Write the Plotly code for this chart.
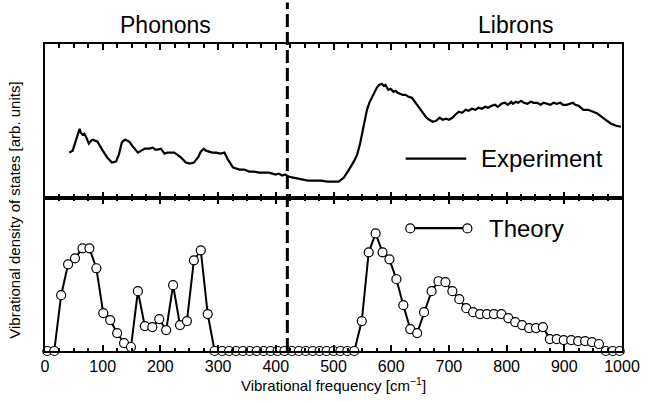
import plotly.graph_objects as go

# ---------------- data ----------------
exp_x = [42, 48, 54, 58, 60, 62, 65, 68, 71, 76, 80, 83, 87, 91, 99, 108, 116, 123, 128, 133,
         136, 139, 143, 146, 151, 156, 161, 167, 173, 180, 187, 191, 195, 201, 207, 212, 218,
         224, 229, 236, 244, 251, 258, 266, 270, 275, 279, 283, 290, 297, 304, 311, 317, 326,
         337, 345, 354, 362, 371, 380, 388, 394, 400, 405, 411, 416, 422, 430, 439, 447, 456,
         467, 479, 489, 499, 509, 518, 524, 530, 536, 541, 546, 550, 554, 558, 562, 567, 571,
         575, 579, 584, 587, 590, 593, 595, 599, 604, 608, 611, 615, 620, 625, 630, 636, 641,
         646, 652, 656, 661, 666, 672, 678, 684, 689, 695, 700, 706, 711, 717, 723, 729, 734,
         740, 746, 751, 757, 763, 768, 774, 780, 785, 791, 797, 802, 808, 811, 816, 820, 825,
         830, 836, 842, 847, 853, 859, 864, 870, 876, 881, 887, 893, 898, 904, 910, 915, 919,
         925, 933, 941, 950, 958, 967, 974, 981, 990, 998]
exp_y = [45, 47, 58, 64, 69, 65, 63, 64, 61, 54, 57, 58, 57, 56, 48, 40, 35, 36, 43, 55,
         57, 58, 57, 56, 52, 49, 45, 47, 49, 49, 50, 48, 48, 49, 44, 45, 45,
         45, 43, 40, 35, 34, 35, 41, 46, 49, 47, 46, 45, 45, 44, 45, 38, 30,
         28, 28, 26, 26, 25, 25, 25, 24, 23, 24, 22, 23, 21, 20, 19, 18, 17,
         17, 17, 16, 16, 16, 20, 25, 31, 37, 43, 54, 65, 76, 88, 95, 101, 105,
         110, 113, 114, 112, 113, 110, 108, 109, 106, 107, 105, 104, 103, 103, 101, 100, 96,
         93, 88, 84, 80, 78, 76, 77, 80, 78, 79, 78, 80, 83, 86, 85, 88, 87,
         89, 88, 90, 89, 91, 90, 92, 93, 91, 94, 95, 93, 96, 94, 96, 95, 97,
         95, 94, 96, 95, 95, 93, 95, 94, 93, 95, 94, 95, 93, 93, 94, 95, 93,
         92, 88, 88, 86, 84, 80, 77, 74, 72, 71]

theory_x = [4, 16, 28, 40, 52, 65, 77, 89, 101, 113, 125, 137, 149, 161, 173, 186, 198, 210,
            222, 234, 246, 258, 270, 282, 294, 307, 319, 331, 343, 355, 367, 379, 391, 403,
            415, 428, 440, 452, 464, 476, 488, 500, 512, 524, 536, 549, 561, 573, 585, 597,
            609, 621, 633, 645, 657, 670, 682, 694, 706, 718, 730, 742, 754, 766, 778, 791,
            803, 815, 827, 839, 851, 863, 875, 887, 899, 912, 924, 936, 948, 960, 972, 984, 996]
theory_y = [0, 0, 56, 87, 93, 103, 103, 83, 38, 31, 18, 8, 4, 60, 25, 24, 32, 21,
            66, 26, 30, 91, 101, 37, 0, 0, 0, 0, 0, 0, 0, 0, 0, 0,
            0, 0, 0, 0, 0, 0, 0, 0, 0, 0, 0, 30, 99, 118, 99, 92,
            72, 46, 22, 18, 39, 60, 70, 69, 60, 52, 43, 39, 37, 37, 37, 37,
            33, 29, 26, 23, 23, 24, 12, 12, 11, 11, 10, 10, 9, 7, 0, 0, 0]

tick_vals = [0, 100, 200, 300, 400, 500, 600, 700, 800, 900, 1000]
tick_text = ["0", "100", "200", "300", "400", "500", "600", "700", "800", "900", "1000"]

boundary = 420
region_labels = ["Phonons", "Librons"]
region_pos = [209, 815]

FONT = "Liberation Sans, Arial, sans-serif"

fig = go.Figure()

fig.add_trace(go.Scatter(x=exp_x, y=exp_y, mode="lines", xaxis="x2", yaxis="y2",
                         line=dict(color="black", width=2.2), showlegend=False))
fig.add_trace(go.Scatter(x=theory_x, y=theory_y, mode="lines+markers", xaxis="x", yaxis="y",
                         line=dict(color="black", width=2),
                         marker=dict(symbol="circle", size=9, color="white",
                                     line=dict(color="black", width=1.2)),
                         cliponaxis=False, showlegend=False))

axis_common = dict(range=[0, 1000], showline=True, linecolor="black", linewidth=2,
                   mirror="allticks", ticks="inside", ticklen=6, tickwidth=2, tickcolor="black",
                   tickvals=tick_vals, ticktext=tick_text, showgrid=False, zeroline=False,
                   minor=dict(dtick=25, ticks="inside", ticklen=3.5, tickwidth=1.5,
                              tickcolor="black", showgrid=False))

fig.update_layout(
    width=652, height=402,
    margin=dict(l=45, r=20, t=44, b=50),
    plot_bgcolor="white", paper_bgcolor="white",
    font=dict(family=FONT, color="black"),
    showlegend=False,
    xaxis=dict(**axis_common, anchor="y", tickfont=dict(size=16),
               title=dict(text="Vibrational frequency [cm<sup>−1</sup>]",
                          font=dict(size=15), standoff=4)),
    yaxis=dict(domain=[0, 0.5], range=[0, 154], showline=True, linecolor="black",
               linewidth=2, mirror=True, ticks="", showticklabels=False,
               showgrid=False, zeroline=False),
    xaxis2=dict(**axis_common, anchor="y2", matches="x", showticklabels=False),
    yaxis2=dict(domain=[0.5, 1], range=[0, 154], showline=True, linecolor="black",
                linewidth=2, mirror=True, ticks="", showticklabels=False,
                showgrid=False, zeroline=False),
)

# dashed boundary between phonons and librons
fig.add_shape(type="line", xref="x", yref="paper", x0=boundary, x1=boundary,
              y0=0, y1=1.135, line=dict(color="black", width=3, dash="13px,5px"))

# region titles
for lab, xp in zip(region_labels, region_pos):
    fig.add_annotation(text=lab, x=xp, xref="x", y=1.062, yref="paper",
                       showarrow=False, font=dict(size=23), yanchor="middle")

# y-axis title
fig.add_annotation(text="Vibrational density of states [arb. units]", x=-0.052, xref="paper",
                   y=0.46, yref="paper", textangle=-90, showarrow=False,
                   font=dict(size=15), xanchor="center", yanchor="middle")

# legend: Experiment
fig.add_shape(type="line", xref="x2", yref="y2 domain", x0=625, x1=730, y0=0.253, y1=0.253,
              line=dict(color="black", width=2.2))
fig.add_annotation(text="Experiment", x=752, xref="x2", y=0.253, yref="y2 domain",
                   xanchor="left", yanchor="middle", showarrow=False, font=dict(size=24))

# legend: Theory
fig.add_shape(type="line", xref="x", yref="y domain", x0=633, x1=732, y0=0.8, y1=0.8,
              line=dict(color="black", width=2.2))
for xc in (633, 732):
    fig.add_shape(type="circle", xref="x", yref="y", xsizemode="pixel", ysizemode="pixel",
                  xanchor=xc, yanchor=123, x0=-4.5, x1=4.5, y0=-4.5, y1=4.5,
                  fillcolor="white", line=dict(color="black", width=1.2))
fig.add_annotation(text="Theory", x=766, xref="x", y=0.8, yref="y domain",
                   xanchor="left", yanchor="middle", showarrow=False, font=dict(size=24))

fig.write_html("out.html")
